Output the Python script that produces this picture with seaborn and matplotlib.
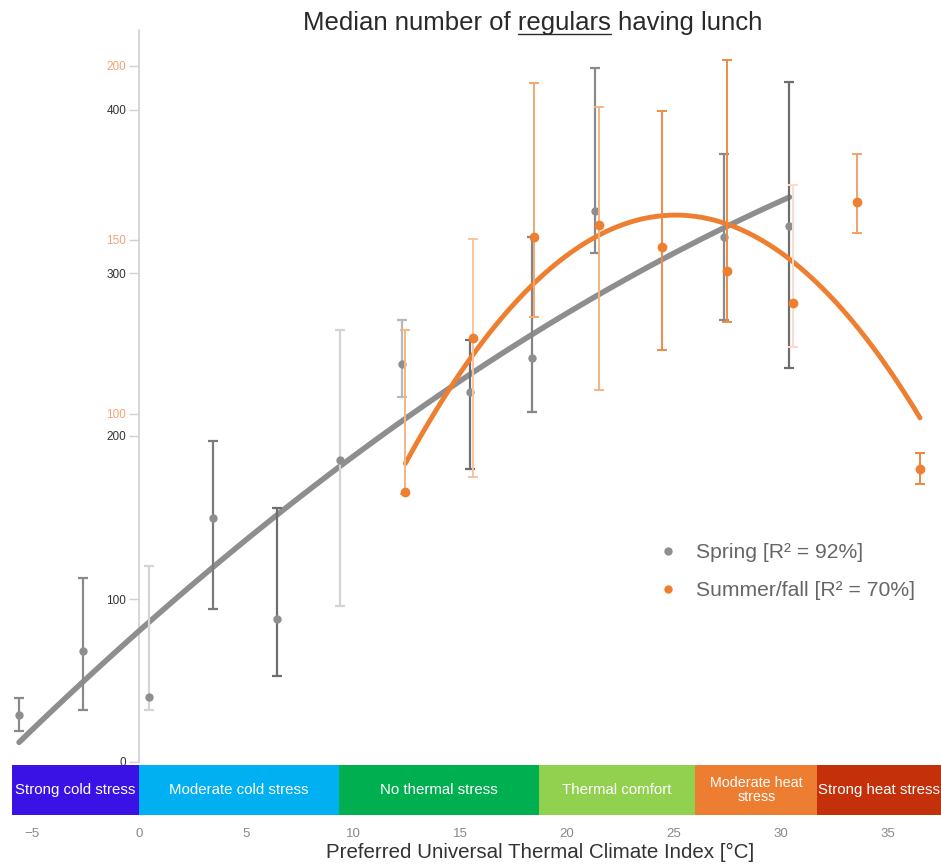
import numpy as np
import matplotlib
matplotlib.use("Agg")
import matplotlib.pyplot as plt
from matplotlib.lines import Line2D
import seaborn as sns

# spring (left, grey scale)
spring_x = [-5.6, -2.6, 0.45, 3.45, 6.45, 9.4, 12.3, 15.45, 18.35, 21.3, 27.35, 30.4]
spring_med = [29, 68, 40, 150, 88, 185, 244, 227, 248, 338, 322, 329]
spring_lo = [19, 32, 32, 94, 53, 96, 224, 180, 215, 312, 271, 242]
spring_hi = [39, 113, 120, 197, 156, 265, 271, 259, 322, 426, 373, 417]

# summer/fall (orange scale)
summer_x = [12.45, 15.6, 18.45, 21.5, 24.45, 27.5, 30.55, 33.55, 36.5]
summer_med = [77.7, 121.8, 151, 154.3, 147.9, 141.2, 131.8, 161, 84.2]
summer_lo = [77, 82, 128, 107, 118.4, 126.5, 119.3, 152.1, 79.8]
summer_hi = [124, 150.3, 195, 188.3, 187.2, 201.7, 165.8, 174.6, 88.7]

spring_ticks = [0, 100, 200, 300, 400]
summer_ticks = [100, 150, 200]
x_ticks = [-5, 0, 5, 10, 15, 20, 25, 30, 35]

band_names = ["Strong cold stress", "Moderate cold stress", "No thermal stress",
              "Thermal comfort", "Moderate heat\nstress", "Strong heat stress"]
band_edges = [-5.93, 0, 9.35, 18.7, 26.0, 31.7, 37.48]
band_colors = ["#3b12e6", "#00b0f0", "#00b050", "#92d050", "#ed7d31", "#c4300a"]

# per-point error bar shades
spring_err_colors = ["#8a8a8a", "#8a8a8a", "#d4d4d4", "#7a7a7a", "#6e6e6e", "#d4d4d4",
                     "#b8b8b8", "#6e6e6e", "#858585", "#8a8a8a", "#8a8a8a", "#6e6e6e"]
summer_err_colors = ["#f6b585", "#f8c4a0", "#f3a86f", "#f5b383", "#ef8a44", "#ef8a44",
                     "#fadccb", "#f2a068", "#ee8640"]

GREY = "#8e8e8e"
ORANGE = "#ef7f30"

sns.set_style("white")
plt.rcParams['font.family'] = ['Liberation Sans', 'DejaVu Sans']

W, H = 941, 865
fig = plt.figure(figsize=(W / 100, H / 100), dpi=100)
left = 12 / W
ax = fig.add_axes([left, (H - 762) / H, 1 - left, (762 - 30) / H])
band_ax = fig.add_axes([left, (H - 815) / H, 1 - left, 50 / H], sharex=ax)
ax2 = ax.twinx()

# fitted curves
sns.regplot(x=spring_x, y=spring_med, order=2, ci=None, scatter=False, ax=ax,
            line_kws={"color": GREY, "lw": 4, "zorder": 3})
sns.regplot(x=summer_x, y=summer_med, order=2, ci=None, scatter=False, ax=ax2,
            line_kws={"color": ORANGE, "lw": 3.5, "zorder": 3})

# points with error bars
for x, m, lo, hi, c in zip(spring_x, spring_med, spring_lo, spring_hi, spring_err_colors):
    ax.errorbar([x], [m], yerr=[[m - lo], [hi - m]], fmt="o", color=GREY, ms=5,
                ecolor=c, elinewidth=1.6, capsize=3.5, capthick=1.6, zorder=4)
for x, m, lo, hi, c in zip(summer_x, summer_med, summer_lo, summer_hi, summer_err_colors):
    ax2.errorbar([x], [m], yerr=[[m - lo], [hi - m]], fmt="o", color=ORANGE, ms=6,
                 ecolor=c, elinewidth=1.4, capsize=3.5, capthick=1.4, zorder=4)

ax.set_xlim(band_edges[0], band_edges[-1])
ax.set_ylim(0, (762 - 30) / 1.63)
ax2.set_ylim(0, (762 - 30) / 3.48)

for a in (ax, ax2):
    for s in ("top", "right", "bottom", "left"):
        a.spines[s].set_visible(False)
    a.set_xlabel("")
    a.set_ylabel("")
ax.spines["left"].set_visible(True)
ax.spines["left"].set_position(("data", 0))
ax.spines["left"].set_color("#d0d0d0")
ax.spines["left"].set_linewidth(1.2)
ax.tick_params(axis="x", bottom=False, labelbottom=False)

ax.set_yticks(spring_ticks)
ax.tick_params(axis="y", left=True, length=7, width=1, color="#d0d0d0",
               labelsize=8.5, labelcolor="#333333", pad=2)

ax2.yaxis.set_ticks_position("left")
ax2.spines["left"].set_position(("data", 0))
ax2.set_yticks(summer_ticks)
ax2.tick_params(axis="y", left=True, right=False, labelleft=True, labelright=False,
                length=7, width=1, color="#d0d0d0", labelsize=8.5,
                labelcolor="#f2a373", pad=2)

# thermal stress band
for name, x0, x1, c in zip(band_names, band_edges[:-1], band_edges[1:], band_colors):
    band_ax.axvspan(x0, x1, color=c, lw=0)
    band_ax.text((x0 + x1) / 2, 0.5, name, ha="center", va="center", color="white",
                 fontsize=10.3 if "\n" in name else 10.8, linespacing=1.0)
band_ax.set_ylim(0, 1)
band_ax.set_yticks([])
band_ax.set_xticks(x_ticks)
band_ax.tick_params(axis="x", bottom=False, labelsize=9.5, labelcolor="#888888", pad=6)
for s in band_ax.spines.values():
    s.set_visible(False)
band_ax.set_xlabel("Preferred Universal Thermal Climate Index [°C]", fontsize=14.8,
                   color="#333333")
band_ax.xaxis.set_label_coords((540 - 12) / (W - 12), -0.56)

# legend
handles = [Line2D([], [], marker="o", ls="", color=GREY, ms=5),
           Line2D([], [], marker="o", ls="", color=ORANGE, ms=5)]
labels = ["Spring [R² = 92%]", "Summer/fall [R² = 70%]"]
ax2.legend(handles, labels, loc="upper left", bbox_to_anchor=(628 / W, 1 - 524 / H),
           bbox_transform=fig.transFigure, frameon=False, fontsize=15.2,
           labelcolor="#666666", handletextpad=0.3, labelspacing=0.9)

# title with underlined word
pre, word, post = "Median number of ", "regulars", " having lunch"
tkw = dict(fontsize=18.5, color="#2a2a2a")
title = fig.text(533 / W, 1 - 23 / H, pre + word + post, ha="center", va="center", **tkw)
fig.canvas.draw()
r = fig.canvas.get_renderer()
bb = title.get_window_extent(r)
tmp = fig.text(0, 0, pre + word, **tkw)
w_to_end = tmp.get_window_extent(r).width
tmp.set_text(word)
w_word = tmp.get_window_extent(r).width
tmp.remove()
inv = fig.transFigure.inverted()
(x0, y0) = inv.transform((bb.x0 + w_to_end - w_word, bb.y0 + 0.5))
(x1, _) = inv.transform((bb.x0 + w_to_end, bb.y0 + 0.5))
fig.add_artist(Line2D([x0, x1], [y0, y0], transform=fig.transFigure, color="#2a2a2a", lw=1))

fig.savefig("out.png", dpi=100)
